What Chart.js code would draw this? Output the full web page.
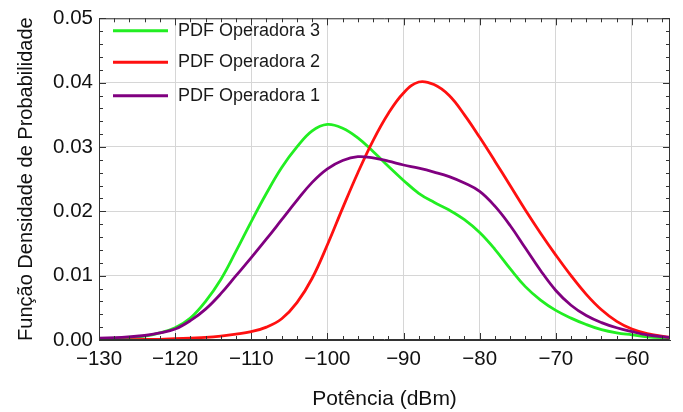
<!DOCTYPE html>
<html><head><meta charset="utf-8">
<script src="https://cdn.jsdelivr.net/npm/chart.js@4"></script>
<style>html,body{margin:0;padding:0;background:#fff}#wrap{width:683px;height:412px}</style>
</head><body><div id="wrap"><canvas id="c" width="683" height="412"></canvas></div>
<script>
// ---- data ----
const potencia = [-130,-127,-124,-122,-120,-118,-116,-114,-112,-110,-108,-106,-104,-102,-100,-98,-96,-94,-92,-90,-88,-86,-84,-82,-80,-78,-76,-74,-72,-70,-68,-66,-64,-62,-60,-58,-55];
const operadora3 = [0.0002,0.0003,0.0006,0.0011,0.0019,0.0034,0.0060,0.0094,0.0138,0.0184,0.0228,0.0268,0.0300,0.0325,0.0335,0.0329,0.0314,0.0293,0.0270,0.0248,0.0228,0.0214,0.0202,0.0187,0.0167,0.0141,0.0111,0.0083,0.0062,0.0046,0.0034,0.0024,0.0016,0.0011,0.0008,0.0005,0.0003];
const operadora2 = [0.0000,0.0000,0.0001,0.0001,0.0002,0.0003,0.0004,0.0006,0.0009,0.0013,0.0020,0.0033,0.0058,0.0096,0.0148,0.0205,0.0260,0.0310,0.0352,0.0384,0.0401,0.0397,0.0380,0.0350,0.0315,0.0278,0.0240,0.0202,0.0166,0.0132,0.0100,0.0071,0.0047,0.0029,0.0017,0.0010,0.0004];
const operadora1 = [0.0003,0.0004,0.0007,0.0011,0.0017,0.0030,0.0048,0.0072,0.0100,0.0128,0.0157,0.0187,0.0217,0.0245,0.0266,0.0279,0.0285,0.0283,0.0278,0.0272,0.0267,0.0261,0.0254,0.0244,0.0231,0.0208,0.0178,0.0143,0.0108,0.0077,0.0054,0.0038,0.0027,0.0019,0.0013,0.0008,0.0004];
const seriesLabels = ['PDF Operadora 3','PDF Operadora 2','PDF Operadora 1'];
const seriesColors = ['#22ee22','#ff1010','#800080'];
const xTicks = [-130,-120,-110,-100,-90,-80,-70,-60];
const yTicks = [0.00,0.01,0.02,0.03,0.04,0.05];
const xMinorStep = 2, yMinorStep = 0.002;
const xTitle = 'Potência (dBm)';
const yTitle = 'Função Densidade de Probabilidade';

const FONT = '"Liberation Sans", Arial, sans-serif';
const toPts = ys => potencia.map((x,i)=>({x, y: ys[i]}));
const seriesData = [operadora3, operadora2, operadora1];

const datasets = seriesData.map((ys,i)=>({
  label: seriesLabels[i],
  data: toPts(ys),
  borderColor: seriesColors[i],
  borderWidth: 2.8,
  pointRadius: 0,
  fill: false,
  tension: 0.4,
  order: [2,1,0][i]
}));

const frameTicks = {
  id: 'frameTicks',
  afterDatasetsDraw(chart) {
    const {ctx, chartArea: a, scales: {x, y}} = chart;
    ctx.save();
    ctx.strokeStyle = '#333';
    ctx.lineWidth = 1;
    ctx.beginPath();
    ctx.rect(a.left + 0.5, a.top + 0.5, a.right - a.left - 1, a.bottom - a.top - 1);
    ctx.stroke();
    ctx.beginPath();
    for (let v = x.min; v <= x.max + 1e-9; v += xMinorStep) {
      const major = xTicks.some(t => Math.abs(t - v) < 1e-6);
      const L = major ? 7 : 4;
      const px = Math.round(x.getPixelForValue(v)) + 0.5;
      ctx.moveTo(px, a.bottom); ctx.lineTo(px, a.bottom - L);
      ctx.moveTo(px, a.top); ctx.lineTo(px, a.top + L);
    }
    for (let k = 0; k <= Math.round((y.max - y.min) / yMinorStep); k++) {
      const v = y.min + k * yMinorStep;
      const major = yTicks.some(t => Math.abs(t - v) < 1e-9);
      const L = major ? 7 : 4;
      const py = Math.round(y.getPixelForValue(v)) + 0.5;
      ctx.moveTo(a.left, py); ctx.lineTo(a.left + L, py);
      ctx.moveTo(a.right, py); ctx.lineTo(a.right - L, py);
    }
    ctx.stroke();
    ctx.restore();
  },
  afterDraw(chart) {
    const {ctx} = chart;
    ctx.save();
    const ys = [30.7, 62.3, 95.7];
    chart.data.datasets.forEach((ds, i) => {
      ctx.strokeStyle = ds.borderColor;
      ctx.lineWidth = 3;
      ctx.beginPath();
      ctx.moveTo(113, ys[i]); ctx.lineTo(168, ys[i]);
      ctx.stroke();
      ctx.fillStyle = '#1a1a1a';
      ctx.font = '18px ' + FONT;
      ctx.textBaseline = 'alphabetic';
      ctx.textAlign = 'left';
      ctx.fillText(ds.label, 178, ys[i] + 4.8);
    });
    ctx.restore();
  }
};

new Chart(document.getElementById('c'), {
  type: 'line',
  data: { datasets },
  plugins: [frameTicks],
  options: {
    responsive: false,
    animation: false,
    devicePixelRatio: 1,
    layout: { padding: { top: 14, right: 13, left: 0, bottom: 0 } },
    plugins: { legend: { display: false }, tooltip: { enabled: false } },
    scales: {
      x: {
        type: 'linear', min: -130, max: -55,
        afterBuildTicks: s => { s.ticks = xTicks.map(v => ({ value: v })); },
        afterFit: s => { s.height = 72; },
        grid: { color: '#d6d6d6', lineWidth: 1, drawTicks: false },
        border: { display: true, color: '#333', width: 1 },
        ticks: {
          padding: 7, color: '#111', font: { family: FONT, size: 20.5 },
          maxRotation: 0, autoSkip: false,
          callback: v => (v < 0 ? '\u2212' + Math.abs(v) : String(v))
        },
        title: { display: true, text: xTitle, color: '#111', font: { family: FONT, size: 21 }, padding: { top: 0, bottom: 0 } }
      },
      y: {
        type: 'linear', min: 0, max: 0.05,
        afterBuildTicks: s => { s.ticks = yTicks.map(v => ({ value: v })); },
        afterFit: s => { s.width = 99; },
        grid: { color: '#d6d6d6', lineWidth: 1, drawTicks: false },
        border: { display: true, color: '#333', width: 1 },
        ticks: {
          padding: 6, color: '#111', font: { family: FONT, size: 20.5 },
          callback: v => Number(v).toFixed(2)
        },
        title: { display: true, text: yTitle, color: '#111', font: { family: FONT, size: 20 }, padding: { top: 14, bottom: 0 } }
      }
    }
  }
});
</script></body></html>
